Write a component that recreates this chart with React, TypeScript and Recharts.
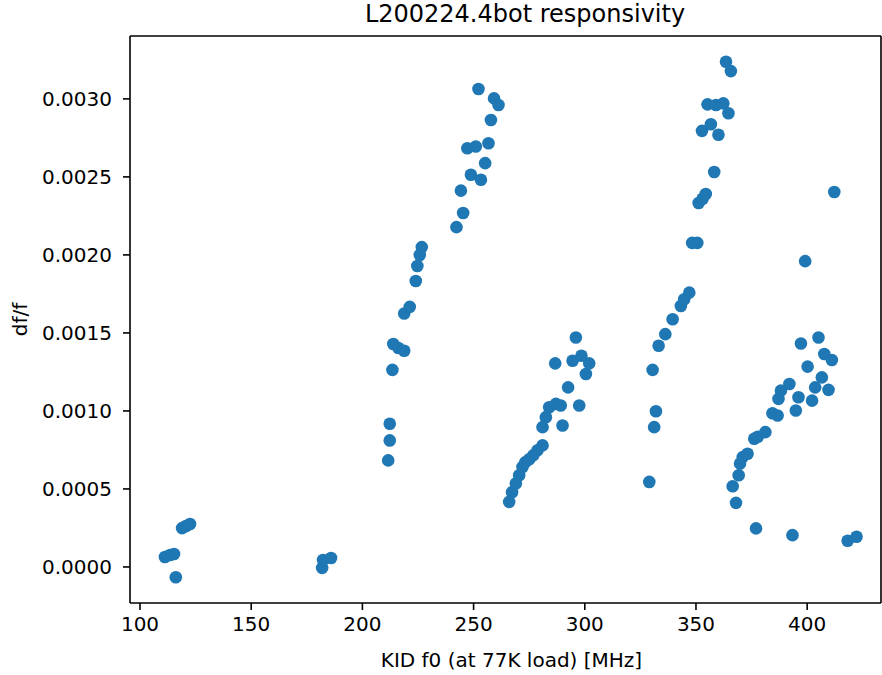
import React from 'react'
import {
  ScatterChart,
  Scatter,
  XAxis,
  YAxis,
  ReferenceLine,
  Label
} from 'recharts'

document.body.style.margin = '0'

// KID f0 [MHz] and df/f, one pair of arrays per resonator group
const groupAF0 = [111.2, 113.5, 115.3, 116.1, 118.9, 120.7, 122.5]
const groupADff = [0.000064, 0.000077, 0.000083, -0.000066, 0.000249, 0.000262, 0.000275]

const groupBF0 = [181.9, 182.3, 185.9]
const groupBDff = [-0.000006, 0.000045, 0.000057]

const groupCF0 = [211.6, 212.3, 212.3, 213.5, 213.9, 216.2, 218.8, 218.8, 221.3, 224.0, 224.7, 225.8, 226.7]
const groupCDff = [0.000683, 0.000811, 0.000918, 0.001263, 0.001429, 0.001403, 0.001386, 0.001624, 0.001667, 0.001833, 0.001929, 0.001999, 0.00205]

const groupDF0 = [242.3, 245.3, 244.3, 247.2, 251.0, 256.7, 255.2, 248.8, 253.3, 252.2, 259.2, 261.2, 257.8]
const groupDDff = [0.002178, 0.002269, 0.002412, 0.002684, 0.002695, 0.002716, 0.002588, 0.002514, 0.002482, 0.003063, 0.003003, 0.002961, 0.002865]

const groupEF0 = [
  266.0, 267.3, 269.0, 270.5, 272.0, 273.2, 275.0, 276.8, 278.7, 281.0,
  281.0, 282.5, 284.0, 287.0, 289.2, 290.0, 292.5, 297.5, 286.7, 294.5,
  298.5, 302.0, 300.5, 296.0
]
const groupEDff = [
  0.000417, 0.000479, 0.000535, 0.000588, 0.000641, 0.00067, 0.00069, 0.000715, 0.000747, 0.000779,
  0.000896, 0.00096, 0.001024, 0.001045, 0.001035, 0.000907, 0.001151, 0.001035, 0.001305, 0.001322,
  0.001354, 0.001305, 0.001237, 0.001471
]

const groupFF0 = [
  329.0, 331.2, 332.0, 330.5, 333.2, 336.2, 339.5, 343.2, 344.7, 347.0,
  348.3, 350.6, 351.2, 353.0, 354.4, 358.2, 352.7, 356.7, 360.1, 355.2,
  359.0, 362.3, 364.6, 363.5, 365.7
]
const groupFDff = [
  0.000545, 0.000896, 0.000998, 0.001263, 0.001418, 0.001492, 0.001588, 0.001673, 0.001716, 0.001758,
  0.002077, 0.002077, 0.002333, 0.00236, 0.00239, 0.002531, 0.002795, 0.002837, 0.00277, 0.002965,
  0.002961, 0.002971, 0.002908, 0.003238, 0.003178
]

const groupGF0 = [
  366.5, 368.0, 369.2, 369.8, 371.0, 373.2, 376.2, 377.8, 381.2, 384.4,
  386.7, 387.1, 388.2, 392.0, 394.9, 396.1, 397.2, 399.1, 400.2, 402.2,
  403.6, 405.1, 406.6, 407.7, 409.6, 411.1, 412.2, 377.0, 393.4, 418.2,
  422.2
]
const groupGDff = [
  0.000517, 0.000411, 0.000588, 0.000662, 0.000704, 0.000726, 0.000822, 0.000835, 0.000864, 0.000985,
  0.000971, 0.001077, 0.00113, 0.001173, 0.001003, 0.001088, 0.001432, 0.00196, 0.001284, 0.001066,
  0.001151, 0.001471, 0.001215, 0.001365, 0.001135, 0.001326, 0.002403, 0.000247, 0.000204, 0.000168,
  0.000194
]

const xTicks = [100, 150, 200, 250, 300, 350, 400]
const yTicks = [0, 0.0005, 0.001, 0.0015, 0.002, 0.0025, 0.003]

const xDomain = [95.5, 433.2]
const yDomain = [-0.000231, 0.003403]

const f0 = [...groupAF0, ...groupBF0, ...groupCF0, ...groupDF0, ...groupEF0, ...groupFF0, ...groupGF0]
const dff = [...groupADff, ...groupBDff, ...groupCDff, ...groupDDff, ...groupEDff, ...groupFDff, ...groupGDff]

const points = f0.map((x, i) => ({ f0: x, dff: dff[i] }))

const FONT = '"DejaVu Sans", sans-serif'
const BLUE = '#1f77b4'

const Dot = (props: any) => (
  <circle cx={props.cx} cy={props.cy} r={6.3} fill={BLUE} />
)

const App: React.FC = () => {
  const tickStyle = { fontFamily: FONT, fontSize: 20, fill: '#000' }
  return (
    <div style={{ position: 'relative', width: 882, height: 675 }}>
      <div
        style={{
          position: 'absolute',
          top: 2,
          left: 325,
          width: 400,
          textAlign: 'center',
          fontFamily: FONT,
          fontSize: 24,
          lineHeight: '24px',
          color: '#000',
          whiteSpace: 'nowrap'
        }}
      >
        L200224.4bot responsivity
      </div>
      <ScatterChart
        width={882}
        height={675}
        margin={{ top: 36, right: 1, left: 0, bottom: 0 }}
      >
        <XAxis
          dataKey="f0"
          type="number"
          domain={xDomain}
          allowDataOverflow
          ticks={xTicks}
          height={72}
          tickSize={7}
          tickMargin={7}
          tick={tickStyle}
          tickLine={{ stroke: '#000', strokeWidth: 1.6 }}
          axisLine={{ stroke: '#000', strokeWidth: 1.6 }}
        >
          <Label
            value="KID f0 (at 77K load) [MHz]"
            position="insideBottom"
            offset={8}
            dx={6}
            style={{ fontFamily: FONT, fontSize: 20, fill: '#000' }}
          />
        </XAxis>
        <YAxis
          dataKey="dff"
          type="number"
          domain={yDomain}
          allowDataOverflow
          ticks={yTicks}
          width={130}
          tickSize={7}
          tickMargin={11}
          tickFormatter={(v: number) => v.toFixed(4)}
          tick={tickStyle}
          tickLine={{ stroke: '#000', strokeWidth: 1.6 }}
          axisLine={{ stroke: '#000', strokeWidth: 1.6 }}
        >
          <Label
            value="df/f"
            angle={-90}
            position="insideLeft"
            offset={20}
            style={{ fontFamily: FONT, fontSize: 20, fill: '#000', textAnchor: 'middle' }}
          />
        </YAxis>
        <ReferenceLine y={yDomain[1]} stroke="#000" strokeWidth={1.6} />
        <ReferenceLine x={xDomain[1]} stroke="#000" strokeWidth={1.6} />
        <Scatter
          data={points}
          fill={BLUE}
          shape={Dot}
          isAnimationActive={false}
        />
      </ScatterChart>
    </div>
  )
}

export default App
